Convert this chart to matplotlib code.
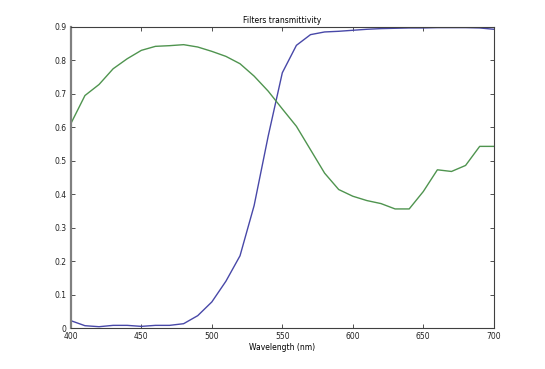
import numpy as np
import matplotlib
matplotlib.use("Agg")
import matplotlib.pyplot as plt

# =========================
# Data
# =========================

wavelength = list(range(400, 701, 10))

blue_filter = [0.022, 0.007, 0.004, 0.008, 0.008, 0.005, 0.008, 0.008, 0.013, 0.037,
               0.078, 0.140, 0.216, 0.366, 0.574, 0.763, 0.845, 0.877, 0.885, 0.887,
               0.890, 0.893, 0.895, 0.896, 0.897, 0.897, 0.898, 0.898, 0.898, 0.897,
               0.893]

green_filter = [0.611, 0.695, 0.728, 0.775, 0.805, 0.830, 0.842, 0.844, 0.847, 0.840,
                0.827, 0.812, 0.790, 0.753, 0.708, 0.655, 0.603, 0.533, 0.463, 0.414,
                0.394, 0.381, 0.372, 0.356, 0.356, 0.408, 0.473, 0.468, 0.486, 0.543,
                0.543]

x_ticks = [400, 450, 500, 550, 600, 650, 700]
y_ticks = [0, 0.1, 0.2, 0.3, 0.4, 0.5, 0.6, 0.7, 0.8, 0.9]

# =========================
# Figure
# =========================

fig = plt.figure(figsize=(5.45, 3.69), dpi=100)
ax = fig.add_axes([0.13, 0.111, 0.776, 0.816])

ax.plot(wavelength, blue_filter, color="#4848a8", linewidth=1.0)
ax.plot(wavelength, green_filter, color="#4f944f", linewidth=1.0)

ax.set_xlim(400, 700)
ax.set_ylim(0, 0.9)
ax.set_xticks(x_ticks)
ax.set_yticks(y_ticks)
ax.set_yticklabels([f"{v:g}" for v in y_ticks])

ax.tick_params(direction="in", top=True, right=True, labelsize=5.5,
               length=3, width=0.6, color="#333333", labelcolor="#222222")
ax.tick_params(axis="x", pad=3)
ax.tick_params(axis="y", pad=3)
for side in ax.spines.values():
    side.set_linewidth(0.8)
    side.set_color("#404040")
ax.spines["left"].set_linewidth(1.6)
ax.spines["left"].set_color("#808080")

ax.set_title("Filters transmittivity", fontsize=5.5, pad=3)
ax.set_xlabel("Wavelength (nm)", fontsize=5.5, labelpad=1)

fig.savefig("out.png", dpi=100)
